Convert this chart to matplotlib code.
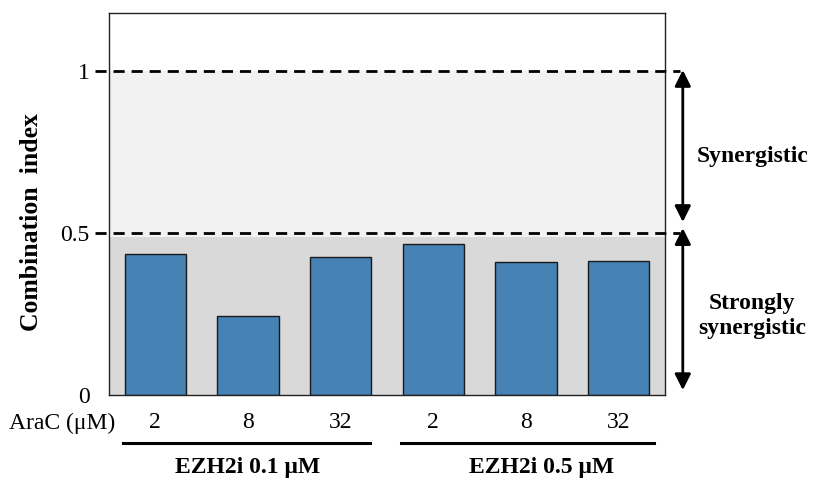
import matplotlib
matplotlib.use("Agg")
import matplotlib.pyplot as plt
from matplotlib.transforms import blended_transform_factory

plt.rcParams['font.family'] = ['Liberation Serif', 'DejaVu Serif']

doses = ["2", "8", "32", "2", "8", "32"]
ci_values = [0.435, 0.244, 0.426, 0.466, 0.410, 0.414]
groups = ["EZH2i 0.1 μM", "EZH2i 0.5 μM"]
yticks = [0, 0.5, 1]
ytick_labels = ["0", "0.5", "1"]

fig = plt.figure(figsize=(8.14, 4.84), dpi=100)
ax = fig.add_axes([109/814, 1-395/484, (665-109)/814, (395-13)/484])

x = list(range(len(ci_values)))
ax.set_xlim(-0.5, 5.5)
ax.set_ylim(0, 1.179)

# shaded bands
ax.axhspan(0, 0.488, color='#d9d9d9', zorder=0, lw=0)
ax.axhspan(0.488, 1.0, color='#f2f2f2', zorder=0, lw=0)

ax.bar(x, ci_values, width=0.66, color='#4682b4', edgecolor='#1a1a1a', linewidth=1.0, zorder=2)

# dashed threshold lines extending past axes
tb = blended_transform_factory(ax.transAxes, ax.transData)
for yv in (1.0, 0.5):
    ax.plot([-0.025, 1.027], [yv, yv], transform=tb, color='black', lw=2.0,
            ls=(0, (4, 2.5)), clip_on=False, zorder=3)

ax.set_yticks(yticks)
ax.set_yticklabels(ytick_labels)
ax.set_xticks(x)
ax.set_xticklabels(doses)
ax.tick_params(axis='both', length=0, labelsize=17)
ax.tick_params(axis='y', pad=14)
ax.tick_params(axis='x', pad=12)
for s in ax.spines.values():
    s.set_linewidth(1.0)
    s.set_color('#222222')

fig.text(32/814, 1-222/484, "Combination  index", rotation=90, ha='center', va='center',
         fontsize=18.5, fontweight='bold')
fig.text(115/814, 1-423/484, "AraC (μM)", ha='right', va='center', fontsize=17)

# group lines and labels
tg = blended_transform_factory(ax.transData, fig.transFigure)
for (x0, x1) in [(-0.35, 2.32), (2.65, 5.38)]:
    ax.plot([x0, x1], [1-443/484, 1-443/484], transform=tg, color='black', lw=2.2, clip_on=False)
ax.text(1.0, 1-467/484, groups[0], transform=tg, ha='center', va='center',
        fontsize=17, fontweight='bold')
ax.text(4.17, 1-467/484, groups[1], transform=tg, ha='center', va='center',
        fontsize=17, fontweight='bold')

# arrows
for (y0, y1) in [(0.534, 1.003), (0.015, 0.515)]:
    ax.annotate("", xy=(1.032, y1), xytext=(1.032, y0), xycoords=tb, textcoords=tb,
                arrowprops=dict(arrowstyle='<|-|>', color='black', lw=2.0,
                                mutation_scale=24, shrinkA=0, shrinkB=0))
ax.text(1.157, 0.735, "Synergistic", transform=tb, ha='center', va='center',
        fontsize=17, fontweight='bold')
ax.text(1.157, 0.245, "Strongly\nsynergistic", transform=tb, ha='center', va='center',
        fontsize=17, fontweight='bold', linespacing=1.25)

fig.savefig("out.png", dpi=100)
